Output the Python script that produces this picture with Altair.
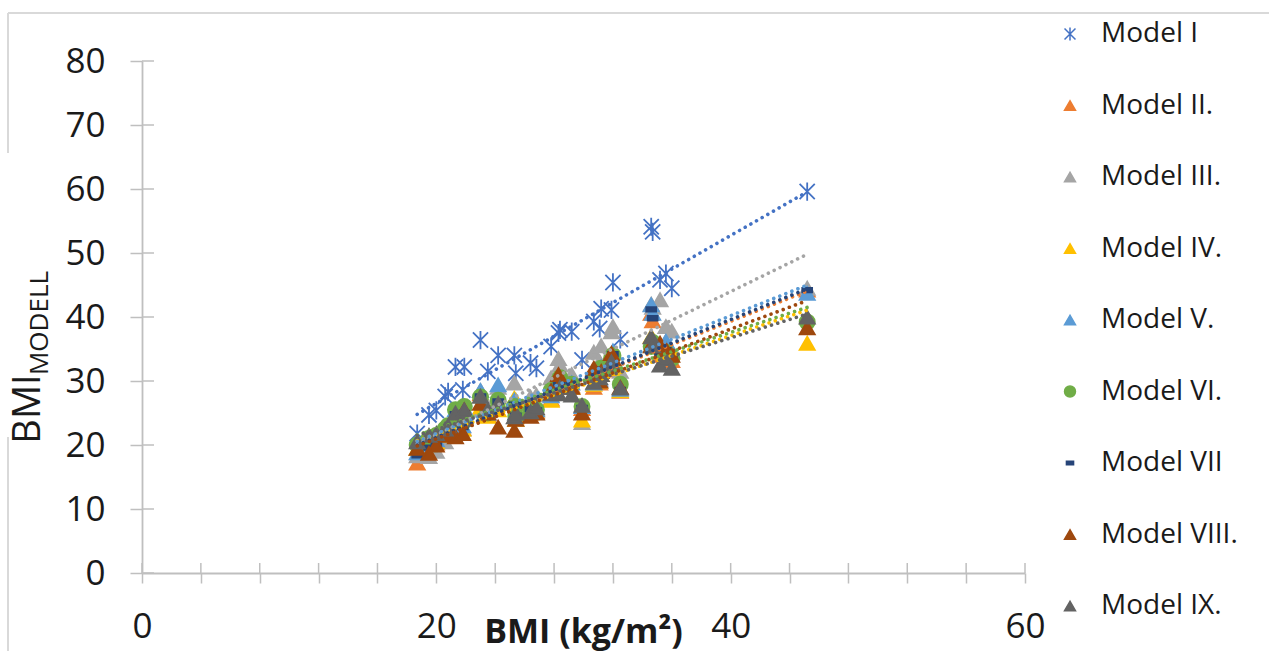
import altair as alt
import pandas as pd

# ---- data ----
models = ["Model I", "Model II.", "Model III.", "Model IV.", "Model V.",
          "Model VI.", "Model VII", "Model VIII.", "Model IX."]
colors = ["#4472C4", "#ED7D31", "#A5A5A5", "#FFC000", "#5B9BD5",
          "#70AD47", "#264478", "#9E480E", "#636363"]

bmi = [18.7, 19.5, 20.0, 20.6, 20.8, 21.3, 21.8, 21.9, 23.0, 23.5, 24.2, 25.3,
       25.4, 26.4, 26.8, 27.8, 28.3, 28.4, 29.2, 29.9, 30.7, 31.1, 31.2, 31.9,
       32.0, 32.5, 34.6, 34.7, 35.2, 35.6, 36.0, 45.2]

model_1 = [21.8, 24.7, 25.4, 27.6, 28.3, 32.2, 28.6, 32.2, 36.4, 31.5, 34.0, 34.0,
           31.2, 32.8, 32.0, 35.4, 37.5, 38.0, 37.7, 33.3, 39.3, 38.2, 41.3, 41.1,
           45.4, 36.5, 54.1, 53.3, 45.8, 46.8, 44.5, 59.6]
model_2 = [17.2, 19.8, 20.3, 21.8, 22.4, 25.0, 22.6, 25.2, 28.0, 24.6, 26.6, 26.5,
           24.4, 25.8, 25.2, 27.2, 29.2, 29.5, 29.2, 25.7, 29.0, 29.7, 31.5, 31.7,
           34.4, 28.4, 40.6, 39.4, 34.0, 34.6, 33.2, 44.2]
model_3 = [18.3, 18.2, 19.0, 20.5, 21.5, 24.5, 22.5, 25.5, 28.5, 26.0, 29.0, 29.7,
           27.0, 27.5, 27.8, 30.5, 33.5, 32.5, 31.0, 23.5, 34.5, 33.0, 35.5, 37.7,
           38.5, 31.5, 42.0, 41.5, 42.7, 38.5, 37.8, 44.5]
model_4 = [19.5, 20.0, 20.5, 21.5, 22.0, 24.0, 22.5, 24.5, 25.8, 24.5, 25.5, 27.3,
           24.0, 25.0, 25.5, 27.0, 29.0, 29.5, 29.0, 23.9, 29.5, 30.0, 31.0, 32.0,
           33.0, 28.5, 37.0, 36.5, 35.5, 35.0, 34.5, 35.9]
model_5 = [18.8, 20.0, 20.8, 22.0, 22.5, 25.5, 23.0, 25.8, 28.5, 25.0, 29.4, 27.0,
           25.0, 26.0, 25.5, 27.7, 29.7, 30.2, 29.7, 26.0, 29.7, 30.2, 32.2, 34.0,
           34.7, 28.7, 41.9, 40.6, 35.7, 36.2, 34.7, 43.7]
model_6 = [20.0, 21.0, 21.5, 22.5, 23.0, 25.5, 23.5, 26.0, 27.5, 25.0, 27.0, 26.0,
           24.5, 25.5, 25.5, 28.5, 30.0, 30.5, 29.5, 26.0, 30.5, 30.5, 32.0, 33.5,
           34.0, 29.5, 35.4, 36.0, 35.0, 34.5, 33.5, 39.2]
model_7 = [18.4, 19.6, 20.2, 21.6, 22.2, 24.8, 22.8, 25.0, 27.6, 24.8, 26.8, 26.3,
           24.6, 25.6, 25.4, 27.4, 29.4, 29.8, 29.4, 25.8, 29.4, 30.0, 31.8, 32.0,
           34.2, 28.6, 41.2, 39.8, 34.2, 34.8, 33.6, 44.2]
model_8 = [19.5, 18.7, 20.0, 21.5, 22.0, 21.3, 21.8, 25.5, 26.5, 25.0, 22.8, 22.3,
           24.0, 24.5, 25.0, 28.5, 31.0, 29.5, 29.0, 25.0, 32.0, 30.0, 31.5, 34.3,
           33.5, 29.0, 35.5, 36.0, 35.9, 35.0, 34.0, 38.3]
model_9 = [20.5, 21.5, 21.8, 22.5, 23.0, 25.0, 24.0, 25.5, 27.6, 25.5, 26.5, 24.4,
           25.0, 25.2, 25.8, 28.0, 28.0, 29.0, 27.8, 26.2, 29.8, 30.5, 31.0, 33.0,
           32.5, 28.9, 36.9, 35.5, 32.5, 33.5, 32.0, 40.0]

series = [model_1, model_2, model_3, model_4, model_5, model_6, model_7, model_8, model_9]

y_ticks = list(range(0, 81, 10))
x_ticks = list(range(0, 61, 4))

# ---- shapes ----
asterisk = "M-1,-1L1,1M-1,1L1,-1M0,-1.2L0,1.2"
dash = "M-0.65,-0.3L0.65,-0.3L0.65,0.3L-0.65,0.3Z"
shapes = [asterisk, "triangle-up", "triangle-up", "triangle-up", "triangle-up",
          "circle", dash, "triangle-up", "triangle-up"]

rows = []
for m, c, vals in zip(models, colors, series):
    for x, y in zip(bmi, vals):
        rows.append({"model": m, "hex": c, "BMI": x, "pred": y})
df = pd.DataFrame(rows)

W, H = 883, 512
FONT = "Open Sans"

xscale = alt.Scale(domain=[0, 60], nice=False, zero=False)
yscale = alt.Scale(domain=[0, 80], nice=False)

legend = alt.Legend(
    title=None, orient="none", legendX=914, legendY=-41,
    labelFont=FONT, labelFontSize=28, labelColor="#1a1a1a",
    symbolSize=120, symbolStrokeWidth=1.5, rowPadding=43.5,
    labelOffset=17, padding=0, labelLimit=300,
)

points = alt.Chart(df).mark_point(filled=True, size=230, strokeWidth=1.8, opacity=1).encode(
    x=alt.X("BMI:Q", scale=xscale,
            axis=alt.Axis(values=x_ticks, labelExpr="datum.value % 20 == 0 ? datum.label : ''",
                          grid=False, tickSize=10, tickWidth=1.5, tickColor="#BFBFBF",
                          domainColor="#BFBFBF", domainWidth=1.8,
                          labelFont=FONT, labelFontSize=35, labelColor="#1a1a1a",
                          labelPadding=26, labelFlush=False, labelOverlap=False,
                          title="BMI (kg/m²)", titleFont=FONT, titleFontSize=34,
                          titleFontWeight="bold", titleColor="#1a1a1a",
                          titleX=441, titleY=59, titleAlign="center",
                          titleBaseline="middle")),
    y=alt.Y("pred:Q", scale=yscale,
            axis=alt.Axis(values=y_ticks, grid=False, tickSize=12, tickWidth=1.5,
                          tickColor="#BFBFBF", domainColor="#BFBFBF", domainWidth=1.8,
                          labelFont=FONT, labelFontSize=35, labelColor="#1a1a1a",
                          labelPadding=25, labelFlush=False, title=None)),
    fill=alt.Fill("model:N", scale=alt.Scale(domain=models, range=colors), legend=legend),
    stroke=alt.Stroke("model:N", scale=alt.Scale(domain=models, range=colors), legend=legend),
    shape=alt.Shape("model:N", scale=alt.Scale(domain=models, range=shapes), legend=legend),
)

trend = alt.Chart(df).transform_regression(
    "BMI", "pred", groupby=["model", "hex"], extent=[18.7, 45.2]
).mark_line(strokeDash=[0.01, 6.5], strokeCap="round", strokeWidth=3.6).encode(
    x=alt.X("BMI:Q", scale=xscale),
    y=alt.Y("pred:Q", scale=yscale),
    stroke=alt.Stroke("hex:N", scale=None),
)

# inner halves of the axis ticks (the reference's ticks cross the axis line)
ytick_df = pd.DataFrame({"pred": y_ticks})
xtick_df = pd.DataFrame({"BMI": x_ticks})
ytick_in = alt.Chart(ytick_df).mark_rule(color="#BFBFBF", strokeWidth=1.5).encode(
    y=alt.Y("pred:Q", scale=yscale), x=alt.value(0), x2=alt.value(12))
xtick_in = alt.Chart(xtick_df).mark_rule(color="#BFBFBF", strokeWidth=1.5).encode(
    x=alt.X("BMI:Q", scale=xscale), y=alt.value(H - 10), y2=alt.value(H))

# y axis title: BMI with subscript MODELL
t1 = alt.Chart(pd.DataFrame({"t": ["BMI"]})).mark_text(
    angle=270, font=FONT, fontSize=38, color="#1a1a1a", align="center", baseline="middle"
).encode(text="t:N", x=alt.value(-113), y=alt.value(348))
t2 = alt.Chart(pd.DataFrame({"t": ["MODELL"]})).mark_text(
    angle=270, font=FONT, fontSize=26, color="#1a1a1a", align="center", baseline="middle"
).encode(text="t:N", x=alt.value(-102), y=alt.value(262))

# chart border fragments
frame_df = pd.DataFrame({"k": [0]})
frame_top = alt.Chart(frame_df).mark_rule(color="#D9D9D9", strokeWidth=2).encode(
    x=alt.value(-134), x2=alt.value(1127), y=alt.value(-48))
frame_l1 = alt.Chart(frame_df).mark_rule(color="#D9D9D9", strokeWidth=2).encode(
    x=alt.value(-134), y=alt.value(-48), y2=alt.value(92))
frame_l2 = alt.Chart(frame_df).mark_rule(color="#D9D9D9", strokeWidth=2).encode(
    x=alt.value(-134), y=alt.value(376), y2=alt.value(590))

chart = alt.layer(
    frame_top, frame_l1, frame_l2, ytick_in, xtick_in, points, trend, t1, t2
).properties(
    width=W, height=H,
    autosize=alt.AutoSizeParams(type="none"),
    padding={"left": 142, "top": 61, "right": 244, "bottom": 78},
).configure(background="white").configure_view(stroke=None)

chart.save("out.html", embed_options={"renderer": "svg", "actions": False})
